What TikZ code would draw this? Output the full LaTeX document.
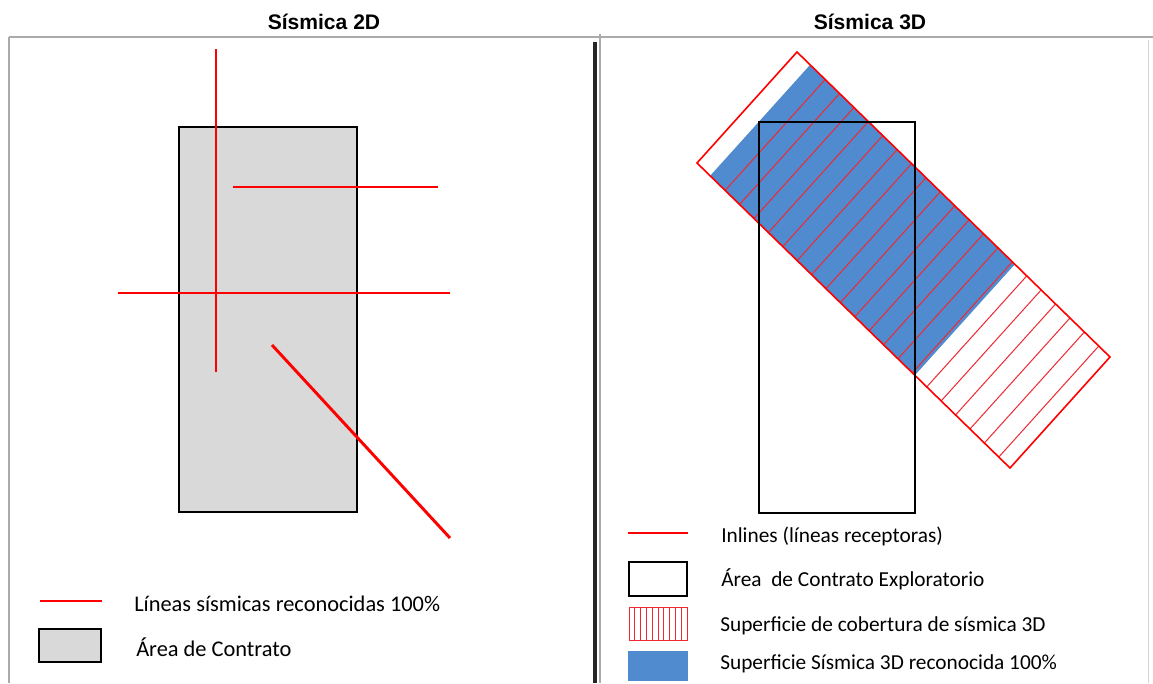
\documentclass[tikz,border=0pt]{standalone}
\usepackage{fontspec}
\usetikzlibrary{calc}
\setmainfont{Carlito}
\newfontfamily\titlefont{Liberation Sans}
\definecolor{seisblue}{RGB}{79,139,206}
\definecolor{areagray}{RGB}{217,217,217}
\definecolor{framegray}{RGB}{170,170,170}
\definecolor{hatchred}{RGB}{240,40,50}
\tikzset{
  seisline/.style={draw=red, line width=2.2pt},
  areabox/.style={draw=black, line width=2.1pt},
  hatchline/.style={draw=hatchred, line width=0.75pt},
  frameline/.style={draw=framegray, line width=0.9pt},
  legtext/.style={anchor=west, inner sep=0pt, font=\fontsize{16.8}{20}\selectfont},
  legtextr/.style={anchor=west, inner sep=0pt, font=\fontsize{16.0}{19}\selectfont},
  titletext/.style={inner sep=0pt, font=\titlefont\bfseries\fontsize{15.8}{18}\selectfont}
}
\begin{document}
\begin{tikzpicture}[x=0.75pt,y=-0.75pt]
\useasboundingbox (0,0) rectangle (1153,683);
\fill[white] (0,0) rectangle (1153,683);
% titles
\node[titletext] (t2d) at (324,22) {Sísmica 2D};
\node[titletext] (t3d) at (870,22) {Sísmica 3D};
% frames
\draw[frameline] (9,37) -- (1153,37);
\draw[frameline] (9,37) -- (9,683);
\draw[frameline] (600,34) -- (600,683);
\draw[draw=framegray!50, line width=0.6pt] (1148,40) -- (1148,683);
\draw[draw=black!85, line width=2.3pt] (595,42) -- (595,683);

% ---------- 2D ----------
\draw[areabox, fill=areagray] (179,127) rectangle (357,512);
\draw[seisline] (216,49) -- (216,372);
\draw[seisline] (233,187) -- (438,187);
\draw[seisline] (118,293) -- (450,293);
\draw[seisline] (272,345) -- (450,538);
% legend 2D
\draw[seisline] (40,601) -- (102,601);
\node[legtext] (l2a) at (134,604) {Líneas sísmicas reconocidas 100\%};
\draw[areabox, fill=areagray] (39,629) rectangle (101,662);
\node[legtext] (l2b) at (136,647) {Área de Contrato};

% ---------- 3D ----------
\coordinate (T) at (797,52);
\coordinate (L) at (697,163);
\coordinate (R) at (1110,357);
\coordinate (B) at (1010,468);
\fill[seisblue] ($(T)!0.042!(R)$) -- ($(T)!0.696!(R)$) -- ($(L)!0.696!(B)$) -- ($(L)!0.042!(B)$) -- cycle;
\foreach \k in {0,...,19}{
  \pgfmathsetmacro{\hpos}{0.09+0.046*\k}
  \draw[hatchline] ($(T)!\hpos!(R)$) -- ($(L)!\hpos!(B)$);
}
\draw[draw=red, line width=1.2pt] (T) -- (R) -- (B) -- (L) -- cycle;
\draw[areabox] (759,122) rectangle (915,513);
% legend 3D
\draw[seisline] (628,533) -- (688,533);
\node[legtextr] (l3a) at (721,536) {Inlines (líneas receptoras)};
\draw[areabox, fill=white] (629,562) rectangle (687,596);
\node[legtextr] (l3b) at (721,579) {Área\ \ de Contrato Exploratorio};
\draw[draw=hatchred, line width=0.75pt] (629,607) rectangle (687,640);
\foreach \i in {1,...,9}{
  \draw[hatchline] ({629+5.8*\i},607) -- ({629+5.8*\i},640);
}
\node[legtextr] (l3c) at (720,626) {Superficie de cobertura de sísmica 3D};
\fill[seisblue] (628,651) rectangle (688,681);
\node[legtextr] (l3d) at (720,664) {Superficie Sísmica 3D reconocida 100\%};
\end{tikzpicture}
\end{document}
